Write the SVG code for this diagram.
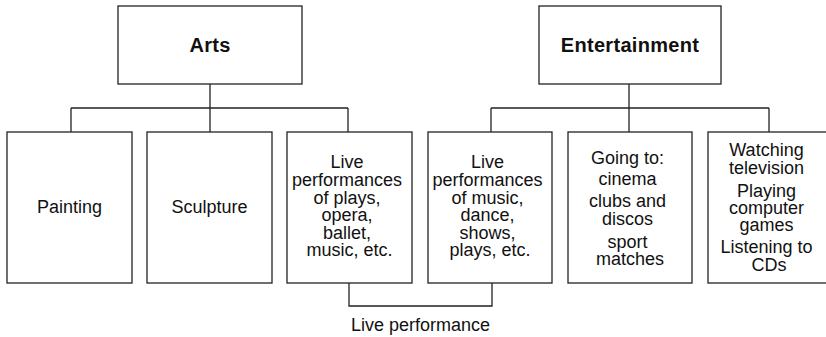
<svg xmlns="http://www.w3.org/2000/svg" width="826" height="337" viewBox="0 0 826 337">
  <style>
    .box { fill: #fff; stroke: #222; stroke-width: 1.3; }
    .wire { fill: none; stroke: #222; stroke-width: 1.3; }
    text { font-family: "Liberation Sans", Arial, sans-serif; fill: #111; text-anchor: middle; }
    .head { font-size: 20px; font-weight: bold; letter-spacing: 0.3px; }
    .body { font-size: 18px; }
  </style>
  <rect width="826" height="337" fill="#fff"/>

  <g id="connectors">
    <!-- Arts tree -->
    <path class="wire" d="M210,84 V108 M71,108 H348 M71,108 V132 M210,108 V132 M348,108 V132"/>
    <!-- Entertainment tree -->
    <path class="wire" d="M629,84 V108 M491,108 H769 M491,108 V132 M629,108 V132 M769,108 V132"/>
    <!-- live performance bracket -->
    <path class="wire" d="M349,283 V306 H492 V283"/>
  </g>

  <g id="arts">
    <rect class="box" x="118" y="6" width="184" height="78"/>
    <text class="head" x="210" y="52">Arts</text>
  </g>
  <g id="entertainment">
    <rect class="box" x="539" y="6" width="182" height="78"/>
    <text class="head" x="630" y="52">Entertainment</text>
  </g>

  <g id="painting">
    <rect class="box" x="7" y="132" width="125" height="151"/>
    <text class="body" x="69.5" y="213">Painting</text>
  </g>
  <g id="sculpture">
    <rect class="box" x="147" y="132" width="125" height="151"/>
    <text class="body" x="209.5" y="213">Sculpture</text>
  </g>
  <g id="live-arts">
    <rect class="box" x="287" y="132" width="125" height="151"/>
    <text class="body">
      <tspan x="349.5" y="168">Live</tspan>
      <tspan x="349.5" y="186">performances</tspan>
      <tspan x="349.5" y="203.5">of plays,</tspan>
      <tspan x="349.5" y="221">opera,</tspan>
      <tspan x="349.5" y="238.5">ballet,</tspan>
      <tspan x="349.5" y="256">music, etc.</tspan>
    </text>
  </g>
  <g id="live-entertainment">
    <rect class="box" x="428" y="132" width="124" height="151"/>
    <text class="body">
      <tspan x="490" y="168">Live</tspan>
      <tspan x="490" y="186">performances</tspan>
      <tspan x="490" y="203.5">of music,</tspan>
      <tspan x="490" y="221">dance,</tspan>
      <tspan x="490" y="238.5">shows,</tspan>
      <tspan x="490" y="256">plays, etc.</tspan>
    </text>
  </g>
  <g id="going-to">
    <rect class="box" x="568" y="132" width="124" height="151"/>
    <text class="body">
      <tspan x="630" y="164">Going to:</tspan>
      <tspan x="630" y="185">cinema</tspan>
      <tspan x="630" y="207">clubs and</tspan>
      <tspan x="630" y="225">discos</tspan>
      <tspan x="630" y="248">sport</tspan>
      <tspan x="630" y="265">matches</tspan>
    </text>
  </g>
  <g id="home">
    <rect class="box" x="708" y="132" width="124" height="151"/>
    <text class="body">
      <tspan x="769" y="156">Watching</tspan>
      <tspan x="769" y="174">television</tspan>
      <tspan x="769" y="197">Playing</tspan>
      <tspan x="769" y="214">computer</tspan>
      <tspan x="769" y="231">games</tspan>
      <tspan x="769" y="253">Listening to</tspan>
      <tspan x="769" y="271">CDs</tspan>
    </text>
  </g>

  <g id="live-performance-label">
    <text class="body" x="420.5" y="331">Live performance</text>
  </g>
</svg>
